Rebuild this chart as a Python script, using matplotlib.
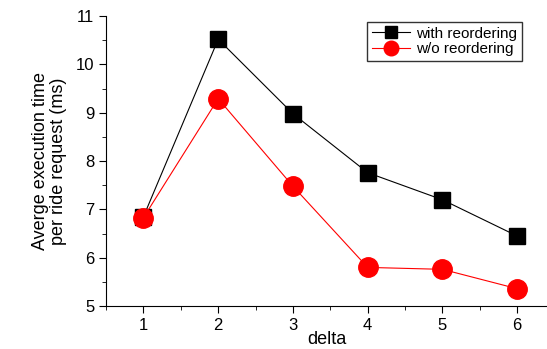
import matplotlib.pyplot as plt
from matplotlib.ticker import MultipleLocator

plt.rcParams['font.family'] = ['Liberation Sans', 'DejaVu Sans']

delta = [1, 2, 3, 4, 5, 6]
with_reorder = [6.85, 10.52, 8.98, 7.76, 7.20, 6.45]
without_reorder = [6.83, 9.29, 7.48, 5.80, 5.76, 5.36]

fig = plt.figure(figsize=(5.47, 3.49), dpi=100)
ax = fig.add_axes([0.194, 0.123, 0.806, 0.831])

ax.plot(delta, with_reorder, color="black", lw=0.8, marker="s", ms=12,
        label="with reordering")
ax.plot(delta, without_reorder, color="red", lw=0.8, marker="o", ms=14,
        label="w/o reordering")

ax.set_xlim(0.5, 6.4)
ax.set_ylim(5, 11)
ax.xaxis.set_major_locator(MultipleLocator(1))
ax.xaxis.set_minor_locator(MultipleLocator(0.5))
ax.yaxis.set_major_locator(MultipleLocator(1))
ax.yaxis.set_minor_locator(MultipleLocator(0.5))
ax.tick_params(which="major", direction="out", length=5, labelsize=12)
ax.tick_params(which="minor", direction="out", length=3)

ax.spines["top"].set_visible(False)
ax.spines["right"].set_visible(False)

ax.set_xlabel("delta", fontsize=13, labelpad=-1)
ax.set_ylabel("Averge execution time\nper ride request (ms)", fontsize=13,
              linespacing=1.1, labelpad=6)

leg = ax.legend(loc="upper right", bbox_to_anchor=(0.96, 1.005), fontsize=11,
                frameon=True, fancybox=False, edgecolor="black",
                handlelength=2.5, borderpad=0.3, labelspacing=0.1,
                handletextpad=0.4, markerscale=0.75)
leg.get_frame().set_linewidth(1.0)

fig.savefig("out.png", dpi=100)
